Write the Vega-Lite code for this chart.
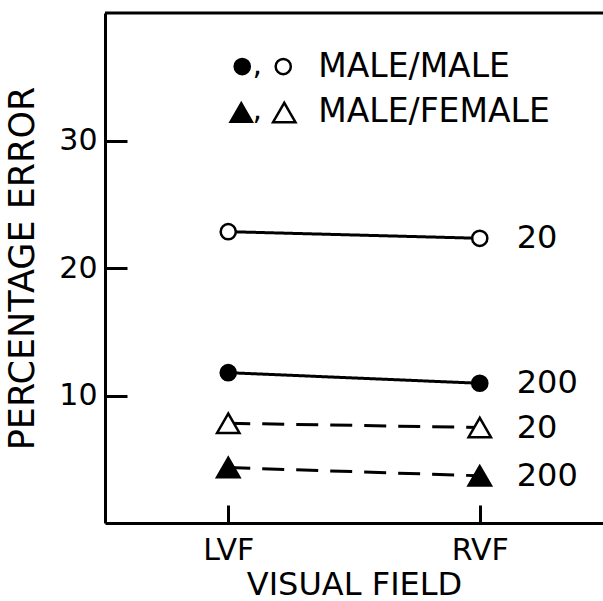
{
  "$schema": "https://vega.github.io/schema/vega-lite/v6.json",
  "width": 498,
  "height": 510,
  "autosize": {"type": "none"},
  "padding": {"left": 105, "top": 13, "right": 0, "bottom": 78},
  "background": "white",
  "config": {
    "view": {"stroke": null},
    "font": "DejaVu Sans",
    "text": {"font": "DejaVu Sans", "color": "black"},
    "axis": {
      "grid": false,
      "domainColor": "black",
      "domainWidth": 3,
      "tickColor": "black",
      "tickWidth": 3,
      "labelColor": "black",
      "labelFont": "DejaVu Sans",
      "labelFontSize": 30,
      "titleFont": "DejaVu Sans",
      "titleFontSize": 33,
      "titleFontWeight": "normal",
      "titleColor": "black"
    }
  },
  "datasets": {
    "pts": [
      {"field": "LVF", "error": 22.85, "group": "MALE/MALE", "n": "20"},
      {"field": "RVF", "error": 22.33, "group": "MALE/MALE", "n": "20"},
      {"field": "LVF", "error": 11.79, "group": "MALE/MALE", "n": "200"},
      {"field": "RVF", "error": 10.96, "group": "MALE/MALE", "n": "200"},
      {"field": "LVF", "error": 7.82, "group": "MALE/FEMALE", "n": "20"},
      {"field": "RVF", "error": 7.49, "group": "MALE/FEMALE", "n": "20"},
      {"field": "LVF", "error": 4.35, "group": "MALE/FEMALE", "n": "200"},
      {"field": "RVF", "error": 3.7, "group": "MALE/FEMALE", "n": "200"}
    ]
  },
  "resolve": {"axis": {"x": "independent", "y": "independent"}},
  "layer": [
    {
      "data": {"name": "pts"},
      "mark": {"type": "line", "stroke": "black", "strokeWidth": 3},
      "encoding": {
        "x": {
          "field": "field",
          "type": "nominal",
          "scale": {"type": "point", "padding": 0.49},
          "axis": {"title": "VISUAL FIELD", "titleFontSize": 32, "labelAngle": 0, "ticks": false, "labelPadding": 12, "titlePadding": 4}
        },
        "y": {
          "field": "error",
          "type": "quantitative",
          "scale": {"domain": [0, 40], "nice": false},
          "axis": {"title": "PERCENTAGE ERROR", "titleFontSize": 35, "values": [10, 20, 30], "ticks": false, "labelPadding": 8, "titlePadding": 18}
        },
        "detail": {"field": "n"},
        "strokeDash": {
          "field": "group",
          "type": "nominal",
          "scale": {"domain": ["MALE/MALE", "MALE/FEMALE"], "range": [[1, 0], [22, 12]]},
          "legend": null
        }
      }
    },
    {
      "data": {"name": "pts"},
      "mark": {"type": "point", "stroke": "black", "strokeWidth": 2.5, "opacity": 1, "fillOpacity": 1},
      "encoding": {
        "x": {
          "field": "field",
          "type": "nominal",
          "axis": {"orient": "top", "offset": -510, "labels": false, "domain": false, "title": null, "ticks": true, "tickSize": 18}
        },
        "y": {
          "field": "error",
          "type": "quantitative",
          "axis": {"orient": "right", "offset": -498, "values": [10, 20, 30], "labels": false, "domain": false, "title": null, "ticks": true, "tickSize": 22}
        },
        "shape": {
          "field": "group",
          "type": "nominal",
          "scale": {"domain": ["MALE/MALE", "MALE/FEMALE"], "range": ["circle", "triangle-up"]},
          "legend": null
        },
        "size": {
          "field": "group",
          "type": "nominal",
          "scale": {"domain": ["MALE/MALE", "MALE/FEMALE"], "range": [230, 500]},
          "legend": null
        },
        "fill": {
          "field": "n",
          "type": "nominal",
          "scale": {"domain": ["20", "200"], "range": ["white", "black"]},
          "legend": null
        }
      }
    },
    {
      "data": {"name": "pts"},
      "transform": [{"filter": "datum.field == 'RVF'"}],
      "mark": {"type": "text", "align": "left", "baseline": "middle", "dx": 37, "fontSize": 32, "color": "black"},
      "encoding": {
        "x": {"field": "field", "type": "nominal", "axis": null},
        "y": {"field": "error", "type": "quantitative", "axis": null},
        "text": {"field": "n"}
      }
    },
    {
      "data": {"values": [{}]},
      "mark": {"type": "rule", "stroke": "black", "strokeWidth": 3},
      "encoding": {"y": {"datum": 40, "type": "quantitative", "axis": null}}
    },
    {
      "data": {"values": [{}]},
      "encoding": {"x": {"datum": "LVF", "type": "nominal", "axis": null}, "y": {"datum": 35.8, "type": "quantitative", "axis": null}},
      "layer": [
        {"mark": {"type": "point", "shape": "circle", "fill": "black", "stroke": "black", "strokeWidth": 2.5, "size": 230, "opacity": 1, "fillOpacity": 1, "xOffset": 14}},
        {"mark": {"type": "text", "text": ",", "fontSize": 30, "align": "center", "baseline": "middle", "xOffset": 29, "yOffset": -2}},
        {"mark": {"type": "point", "shape": "circle", "fill": "white", "stroke": "black", "strokeWidth": 2.5, "size": 230, "opacity": 1, "fillOpacity": 1, "xOffset": 55}},
        {"mark": {"type": "text", "text": "MALE/MALE", "fontSize": 33, "align": "left", "baseline": "middle", "xOffset": 90}}
      ]
    },
    {
      "data": {"values": [{}]},
      "encoding": {"x": {"datum": "LVF", "type": "nominal", "axis": null}, "y": {"datum": 32.2, "type": "quantitative", "axis": null}},
      "layer": [
        {"mark": {"type": "point", "shape": "triangle-up", "fill": "black", "stroke": "black", "strokeWidth": 2.5, "size": 450, "opacity": 1, "fillOpacity": 1, "xOffset": 13}},
        {"mark": {"type": "text", "text": ",", "fontSize": 30, "align": "center", "baseline": "middle", "xOffset": 29, "yOffset": -2}},
        {"mark": {"type": "point", "shape": "triangle-up", "fill": "white", "stroke": "black", "strokeWidth": 2.5, "size": 500, "opacity": 1, "fillOpacity": 1, "xOffset": 56}},
        {"mark": {"type": "text", "text": "MALE/FEMALE", "fontSize": 33, "align": "left", "baseline": "middle", "xOffset": 90}}
      ]
    }
  ]
}
